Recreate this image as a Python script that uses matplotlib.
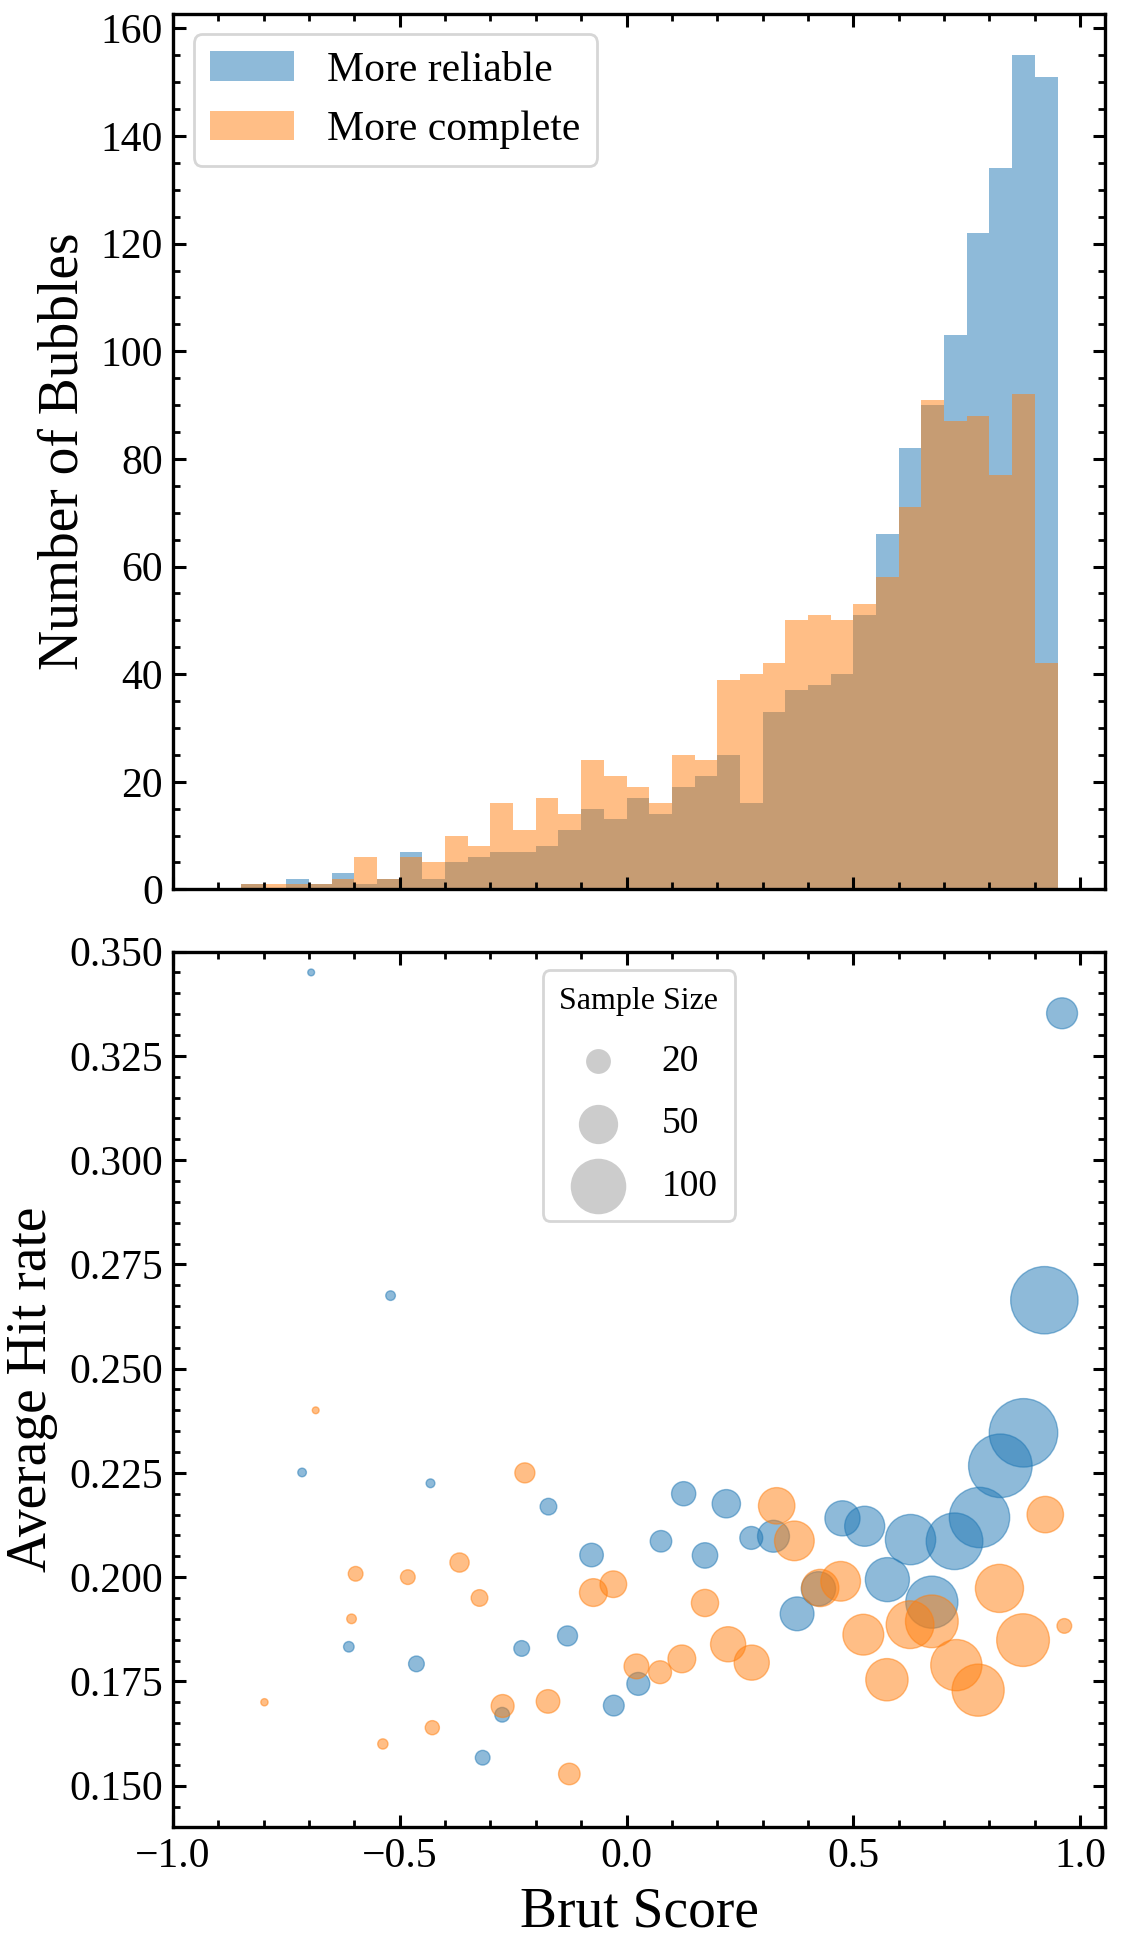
import numpy as np
import matplotlib
matplotlib.use("Agg")
import matplotlib.pyplot as plt
from matplotlib.ticker import MultipleLocator

plt.rcParams["font.family"] = ["Liberation Serif", "DejaVu Serif"]
plt.rcParams["mathtext.fontset"] = "stix"

# histogram: bins of 0.05 from -0.85 to 0.95
bin_edges = np.round(np.arange(-0.85, 0.951, 0.05), 2)
reliable_counts = [1, 0, 2, 1, 3, 1, 2, 7, 2, 5, 6, 7, 7, 8, 11, 15, 13, 17,
                   14, 19, 21, 25, 16, 33, 37, 38, 40, 51, 66, 82, 90, 103, 122, 134, 155, 151]
complete_counts = [1, 1, 1, 1, 2, 6, 2, 6, 5, 10, 8, 16, 11, 17, 14, 24, 21, 19,
                   16, 25, 24, 39, 40, 42, 50, 51, 50, 53, 58, 71, 91, 87, 88, 77, 92, 42]

# bubbles: brut score, average hit rate, sample size
rel_score = [-0.695, -0.52, -0.715, -0.432, -0.172, -0.077, -0.130, -0.231, -0.612, -0.463,
             -0.274, -0.028, -0.317, 0.026, 0.076, 0.126, 0.173, 0.220, 0.275, 0.324,
             0.376, 0.423, 0.476, 0.525, 0.575, 0.626, 0.673, 0.723, 0.778, 0.824,
             0.875, 0.921, 0.960]
rel_hit = [0.345, 0.2675, 0.2251, 0.2225, 0.2169, 0.2053, 0.1859, 0.1829, 0.1833, 0.1792,
           0.1670, 0.1692, 0.1567, 0.1744, 0.2086, 0.2200, 0.2052, 0.2176, 0.2094, 0.2098,
           0.1912, 0.1972, 0.2141, 0.2122, 0.1994, 0.2090, 0.1940, 0.2086, 0.2143, 0.2267,
           0.2346, 0.2664, 0.3352]
rel_size = [1.5, 3, 2.4, 2.5, 9, 18, 13, 8, 3.6, 8,
            7, 14, 7, 17, 15, 19, 21, 26, 17, 33,
            37, 38, 40, 52, 63, 82, 88, 104, 118, 131,
            152, 147, 31]

comp_score = [-0.798, -0.685, -0.606, -0.597, -0.537, -0.482, -0.428, -0.368, -0.324, -0.273,
              -0.224, -0.173, -0.126, -0.073, -0.029, 0.022, 0.074, 0.122, 0.173, 0.224,
              0.276, 0.331, 0.370, 0.427, 0.472, 0.522, 0.574, 0.625, 0.673, 0.727,
              0.775, 0.822, 0.874, 0.923, 0.965]
comp_hit = [0.170, 0.240, 0.1900, 0.2008, 0.1600, 0.2000, 0.1639, 0.2035, 0.1950, 0.1691,
            0.2250, 0.1702, 0.1528, 0.1963, 0.1983, 0.1786, 0.1772, 0.1804, 0.1938, 0.1839,
            0.1795, 0.2171, 0.2087, 0.1974, 0.1990, 0.1862, 0.1754, 0.1886, 0.1894, 0.1789,
            0.1729, 0.1973, 0.1849, 0.2150, 0.1883]
comp_size = [1.7, 1.5, 3, 7, 3.4, 7, 6.5, 12, 9, 17,
             13, 18, 15, 25, 23, 20, 17, 25, 24, 40,
             40, 43, 51, 45, 51, 54, 58, 74, 90, 85,
             88, 75, 90, 43, 7]

legend_sizes = [20, 50, 100]

bin_centers = (bin_edges[:-1] + bin_edges[1:]) / 2

fig, (ax1, ax2) = plt.subplots(2, 1, figsize=(5.61, 9.72), dpi=200, sharex=True)
fig.subplots_adjust(left=0.154, right=0.985, top=0.993, bottom=0.060, hspace=0.071)

ax1.hist(bin_centers, bins=bin_edges, weights=reliable_counts, color="tab:blue", alpha=0.5,
         label="More reliable")
ax1.hist(bin_centers, bins=bin_edges, weights=complete_counts, color="tab:orange", alpha=0.5,
         label="More complete")
ax1.set_ylabel("Number of Bubbles", fontsize=20)
ax1.legend(loc="upper left", fontsize=15)
ax1.yaxis.set_major_locator(MultipleLocator(20))
ax1.yaxis.set_minor_locator(MultipleLocator(5))

ax2.scatter(rel_score, rel_hit, s=np.array(rel_size) * 4, color="tab:blue", alpha=0.5,
            linewidths=0.5)
ax2.scatter(comp_score, comp_hit, s=np.array(comp_size) * 4, color="tab:orange", alpha=0.5,
            linewidths=0.5)
for n in legend_sizes:
    ax2.scatter([], [], s=n * 4, color="gray", alpha=0.4, linewidths=0, label=str(n))
leg = ax2.legend(loc="upper center", title="Sample Size", fontsize=13.5, title_fontsize=11.5,
                 labelspacing=0.75, borderpad=0.45, handletextpad=0.7)
ax2.set_ylim(0.14, 0.35)
ax2.yaxis.set_major_locator(MultipleLocator(0.025))
ax2.yaxis.set_minor_locator(MultipleLocator(0.005))
ax2.set_xlim(-1.0, 1.055)
ax2.xaxis.set_major_locator(MultipleLocator(0.5))
ax2.xaxis.set_minor_locator(MultipleLocator(0.1))
ax2.set_xlabel("Brut Score", fontsize=20)
ax2.set_ylabel("Average Hit rate", fontsize=20)
ax2.yaxis.set_major_formatter(plt.FormatStrFormatter("%.3f"))

for ax in (ax1, ax2):
    for sp in ax.spines.values():
        sp.set_linewidth(1.2)
    ax.tick_params(which="both", direction="in", top=True, right=True, labelsize=15)
    ax.tick_params(which="major", length=4.5, width=1.1)
    ax.tick_params(which="minor", length=2.5, width=1.0)

fig.savefig("out.png", dpi=200)
